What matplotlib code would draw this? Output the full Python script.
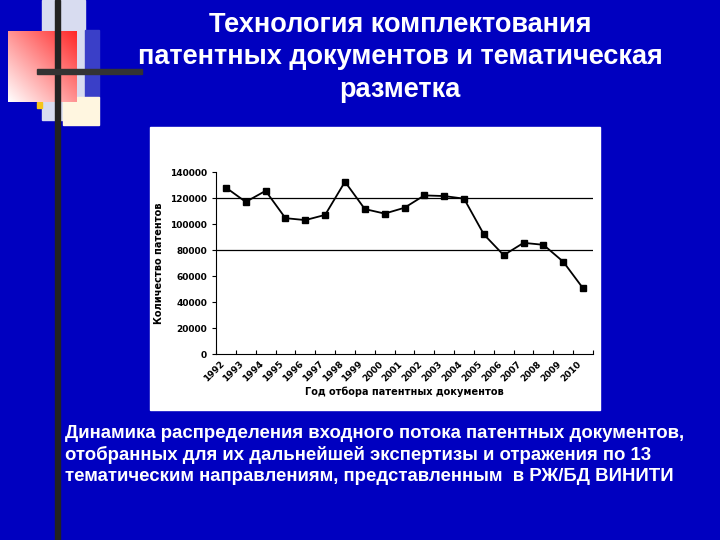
import matplotlib
matplotlib.use("Agg")
import matplotlib.pyplot as plt
from matplotlib.patches import Rectangle
import numpy as np

years = [str(y) for y in range(1992, 2011)]
values = [128000, 117000, 125500, 104500, 103000, 107000, 132500, 111500, 108000,
          112500, 122000, 121500, 119500, 92000, 76000, 85500, 84000, 71000, 50500]
yticks = [0, 20000, 40000, 60000, 80000, 100000, 120000, 140000]

W, H = 720, 540
fig = plt.figure(figsize=(7.2, 5.4), dpi=100)
fig.patch.set_facecolor('#0000C0')

def rect(x, y, w, h, **kw):
    fig.add_artist(Rectangle((x / W, 1 - (y + h) / H), w / W, h / H, transform=fig.transFigure, **kw))

# decorations
rect(42, 0, 43, 120, color='#d8dcf0', zorder=1)
rect(85, 30, 14, 68, color='#3a3fc8', zorder=1)
rect(63, 97, 36, 28, color='#fff6e0', zorder=1)
rect(37, 102, 5, 6, color='#f5c518', zorder=1)
grad = np.linspace(0, 1, 100)
img = np.zeros((100, 100, 3))
gx, gy = np.meshgrid(grad, grad)
t = np.clip((gx + (1 - gy)) / 2, 0, 1)
img[..., 0] = 1.0
img[..., 1] = 1 - 0.85 * t
img[..., 2] = 1 - 0.85 * t
ax_img = fig.add_axes([8 / W, 1 - 102 / H, 69 / W, 71 / H], zorder=2)
ax_img.imshow(img, aspect='auto')
ax_img.axis('off')
rect(55, 0, 5, 540, color='#222222', zorder=3)
rect(37, 69, 105, 5, color='#333333', zorder=3)

rect(150, 127, 450, 283, color='white', zorder=1)

fig.text(400 / W, 1 - 12 / H, "Технология комплектования\nпатентных документов и тематическая\nразметка",
         ha='center', va='top', color='white', fontsize=19.5, fontweight='bold',
         linespacing=1.32, family='Liberation Sans')
fig.text(65 / W, 1 - 425 / H,
         "Динамика распределения входного потока патентных документов,\n"
         "отобранных для их дальнейшей экспертизы и отражения по 13\n"
         "тематическим направлениям, представленным  в РЖ/БД ВИНИТИ",
         ha='left', va='top', color='white', fontsize=13.4, fontweight='bold',
         linespacing=1.3, family='Liberation Sans')

ax = fig.add_axes([216 / W, 1 - 354 / H, (593 - 216) / W, (354 - 172) / H], zorder=4)
ax.set_facecolor('white')
x = np.arange(len(values))
ax.plot(x, values, color='black', lw=1.3, marker='s', ms=4.5)
for g in (80000, 120000):
    ax.axhline(g, color='black', lw=0.9, zorder=0)
ax.set_xlim(-0.5, len(values) - 0.5)
ax.set_ylim(0, 140000)
ax.set_yticks(yticks)
ax.set_yticklabels([str(v) for v in yticks], fontsize=6.5, fontweight='bold')
ax.set_xticks(np.arange(len(values) + 1) - 0.5, minor=False)
ax.set_xticklabels([''] * (len(values) + 1))
ax.set_xticks(x, minor=True)
ax.set_xticklabels(years, minor=True, rotation=45, ha='right', fontsize=6.5, fontweight='bold')
ax.tick_params(axis='x', which='minor', length=0, pad=4)
ax.tick_params(axis='x', which='major', length=3, direction='in')
ax.tick_params(axis='y', length=3, direction='out')
for s in ['top', 'right']:
    ax.spines[s].set_visible(False)
ax.set_ylabel("Количество патентов", fontsize=7, fontweight='bold')
ax.set_xlabel("Год отбора патентных документов", fontsize=7, fontweight='bold', labelpad=2)

fig.savefig("out.png", dpi=100, facecolor=fig.get_facecolor())
